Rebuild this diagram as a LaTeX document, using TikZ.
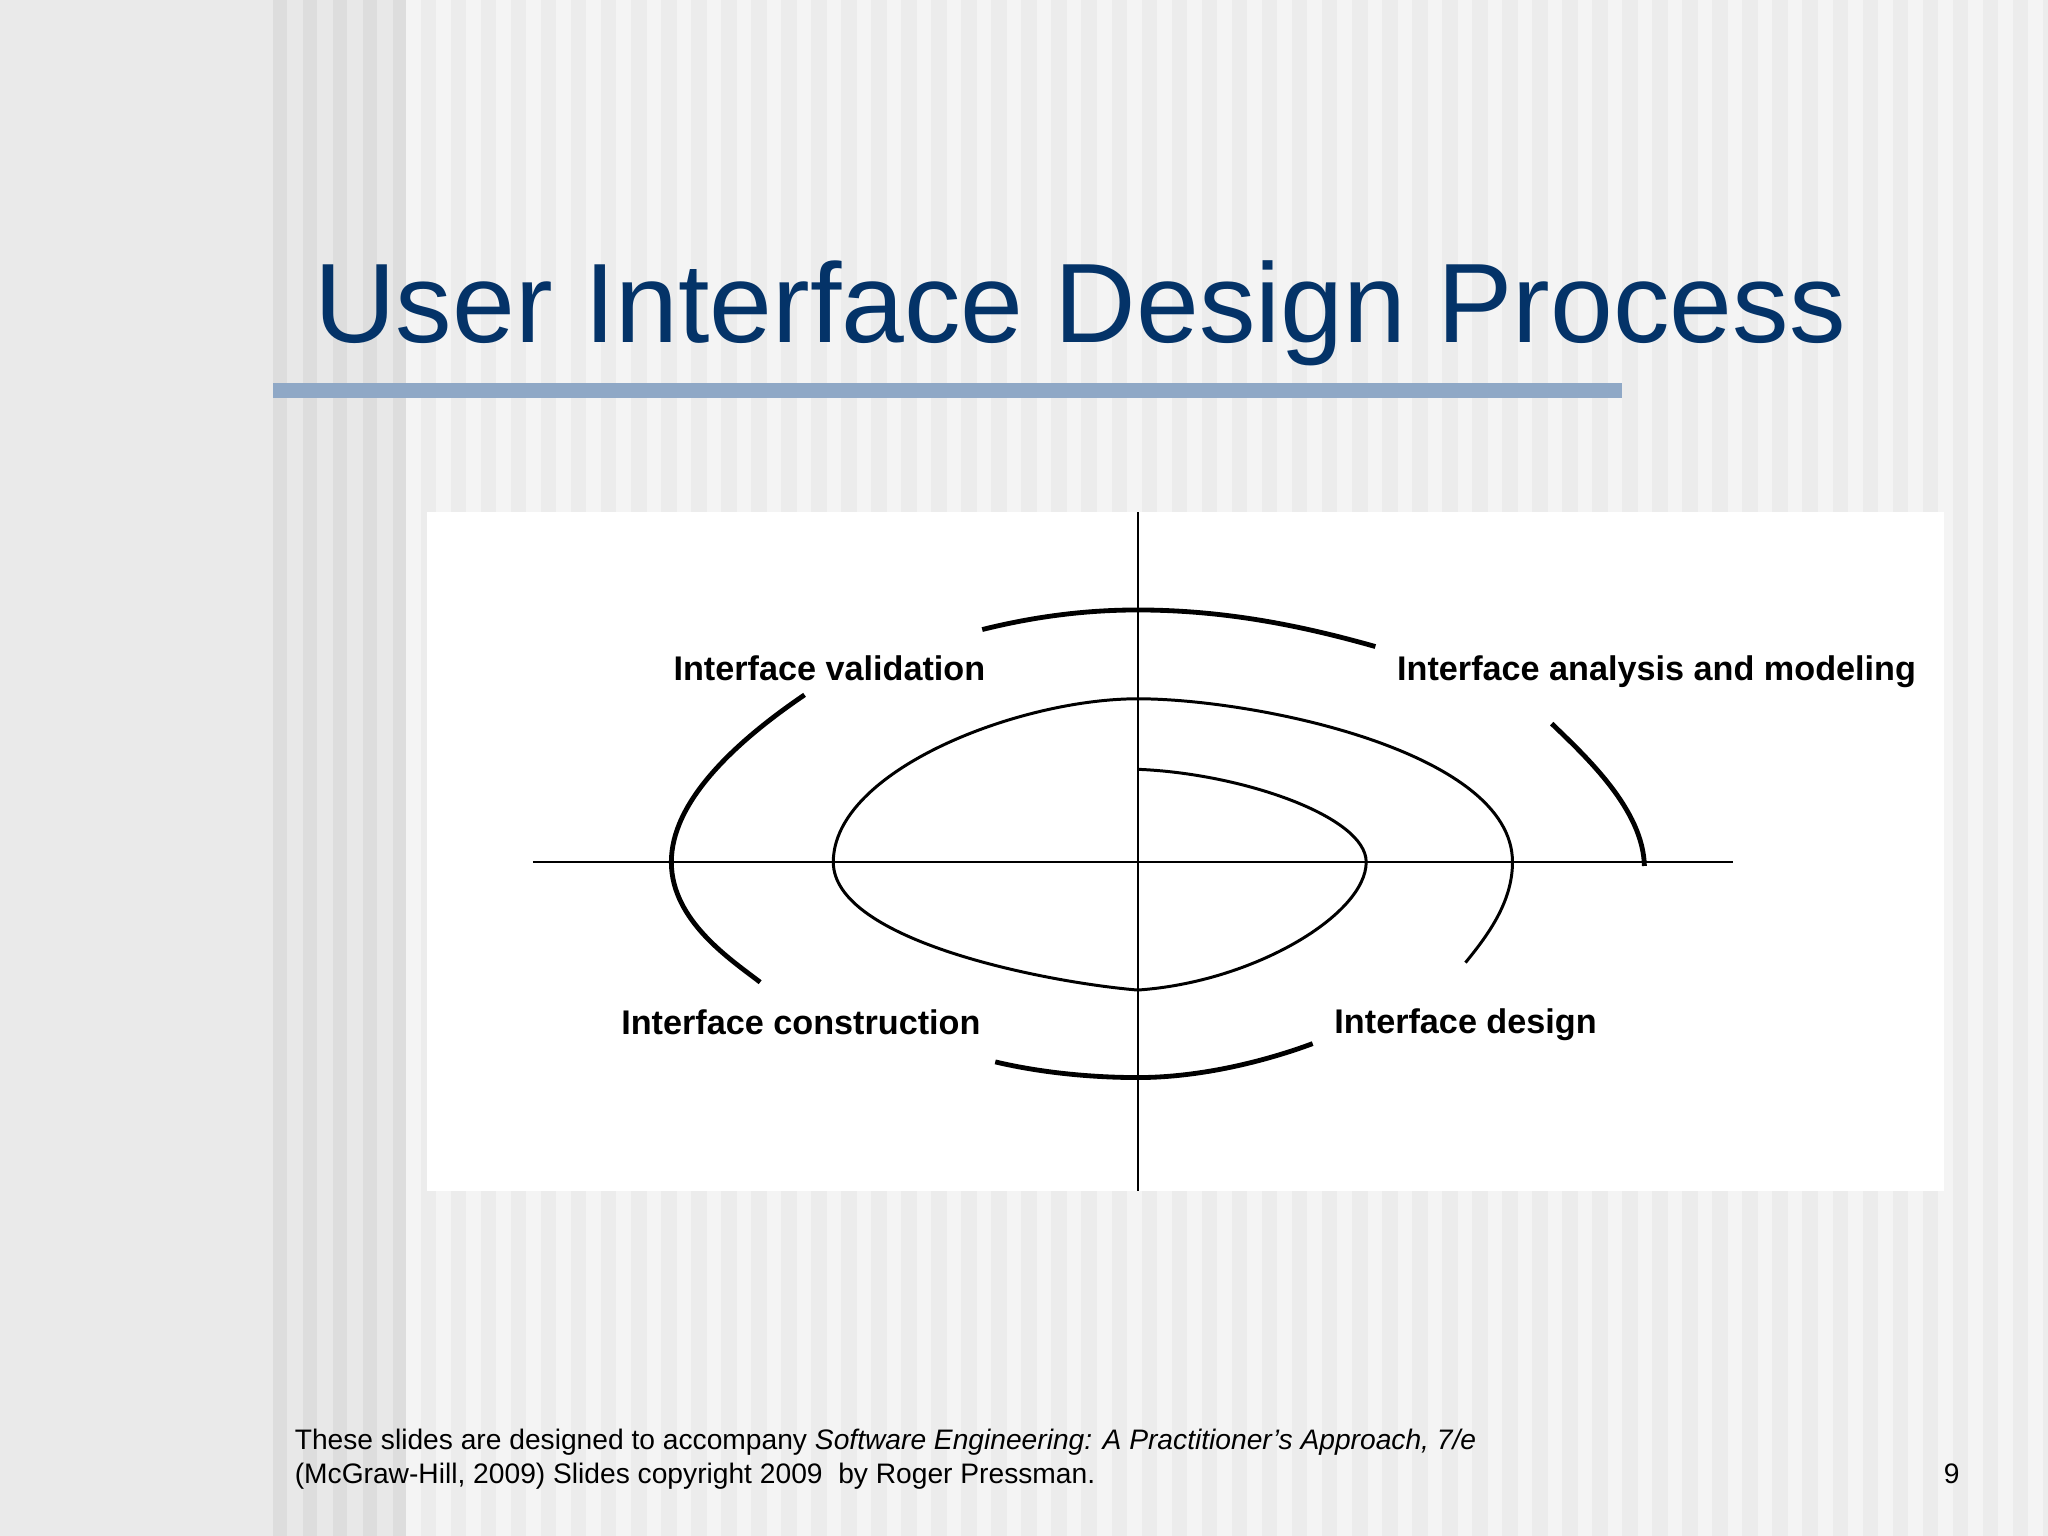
\documentclass[tikz,border=0pt]{standalone}
\usepackage{fontspec}
\setmainfont{Liberation Sans}
\usetikzlibrary{positioning}

\definecolor{titleblue}{RGB}{4,51,104}
\definecolor{barblue}{RGB}{143,168,198}
\definecolor{pagegray}{RGB}{234,234,234}
\definecolor{stripelight}{RGB}{244,244,244}
\definecolor{stripedark}{RGB}{236,236,236}
\definecolor{bandlight}{RGB}{232,232,232}
\definecolor{banddark}{RGB}{221,221,221}

\tikzstyle{phase} = [font=\fontsize{7.45}{9}\selectfont\bfseries, inner sep=0pt, anchor=base west]
\tikzstyle{footer} = [font=\fontsize{6.14}{7.5}\selectfont, inner sep=0pt, anchor=base west]
\tikzstyle{crossline} = [line width=0.45pt]
\tikzstyle{spiral} = [line width=0.65pt]
\tikzstyle{ring} = [line width=1.05pt]

\begin{document}
\begin{tikzpicture}[x=0.1mm, y=-0.1mm]

\useasboundingbox (0,0) rectangle (1568,1176);

% slide background
\fill[pagegray] (0,0) rectangle (209,1176);
\fill[bandlight] (209,0) rectangle (311,1176);
\foreach \i in {0,...,4}
  \fill[banddark] (209+23*\i,0) rectangle (220+23*\i,1176);
\fill[stripelight] (311,0) rectangle (1568,1176);
\foreach \i in {0,...,54}
  \fill[stripedark] (322+23*\i,0) rectangle (334+23*\i,1176);

% title
\node (title) [anchor=base west, inner sep=0pt, text=titleblue, font=\fontsize{24.6}{30}\selectfont] at (240,262) {User Interface Design Process};
\fill[barblue] (209,293) rectangle (1242,305);

% picture panel
\fill[white] (327,392) rectangle (1488,912);

\coordinate (vtop) at (871,392);
\coordinate (vbot) at (871,912);
\coordinate (hleft) at (408,660);
\coordinate (hright) at (1327,660);

\draw[crossline] (vtop) -- (vbot);
\draw[crossline] (hleft) -- (hright);

% spiral
\draw[spiral] (871,589) .. controls (950,592) and (1046,625) .. (1046,660)
  .. controls (1046,700) and (960,752) .. (871,758)
  .. controls (800,752) and (638,720) .. (638,660)
  .. controls (638,590) and (780,535) .. (871,535)
  .. controls (960,535) and (1158,575) .. (1158,660)
  .. controls (1158,690) and (1140,715) .. (1122,737);

% outer arcs
\draw[ring] (752,482) .. controls (800,470) and (840,467) .. (871,467)
  .. controls (940,467) and (1000,480) .. (1053,495);
\draw[ring] (1188,554) .. controls (1215,580) and (1258,620) .. (1259,663);
\draw[ring] (616,532) .. controls (560,570) and (514,615) .. (514,660)
  .. controls (514,705) and (560,735) .. (582,752);
\draw[ring] (762,813) .. controls (800,822) and (840,825) .. (871,825)
  .. controls (920,825) and (970,812) .. (1005,799);

% phase labels
\node (validation) [phase] at (515,521) {Interface validation};
\node (analysis) [phase] at (1069,521) {Interface analysis and modeling};
\node (construction) [phase] at (475,792) {Interface construction};
\node (design) [phase] at (1021,791) {Interface design};

% footer
\node (note1) [footer] at (225,1110) {These slides are designed to accompany \textit{Software Engineering: A Practitioner’s Approach, 7/e}};
\node (note2) [footer] at (225,1136) {(McGraw-Hill, 2009) Slides copyright 2009\ \ by Roger Pressman.};
\node (pagenum) [footer, anchor=base east] at (1501,1136) {9};

\end{tikzpicture}
\end{document}
